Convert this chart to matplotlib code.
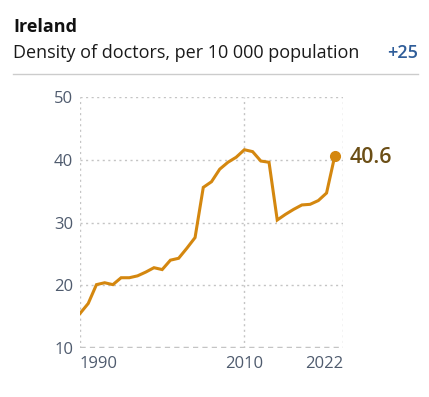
import matplotlib
matplotlib.use("Agg")
import matplotlib.pyplot as plt

plt.rcParams['font.family'] = ['Open Sans', 'DejaVu Sans']

# ---------- Data ----------
years = list(range(1990, 2022))
density = [15.5, 17.1, 20.1, 20.4, 20.1, 21.2, 21.2, 21.5, 22.1, 22.8,
           22.5, 24.0, 24.3, 25.9, 27.6, 35.6, 36.5, 38.5, 39.6, 40.4,
           41.6, 41.3, 39.8, 39.6, 30.4, 31.3, 32.1, 32.8, 32.9, 33.5,
           34.7, 40.6]
y_ticks = [10, 20, 30, 40, 50]
x_ticks = [1990, 2010, 2022]
country = 'Ireland'
subtitle = 'Density of doctors, per 10 000 population'
change = '+25'

line_color = '#d4870f'
tick_color = '#4f5b6e'
grid_color = '#c4c4c4'

fig = plt.figure(figsize=(4.29, 3.97), dpi=100)
ax = fig.add_axes([0.1865, 0.1234, 0.613, 0.6322])

ax.plot(years, density, color=line_color, linewidth=2.2, solid_joinstyle='miter')
ax.plot(years[-1], density[-1], 'o', color=line_color, markersize=7)
ax.annotate(f'{density[-1]:.1f}', (years[-1], density[-1]), xytext=(11, -1),
            textcoords='offset points', va='center', ha='left',
            fontsize=15.5, fontweight='semibold', color='#6b4e16')

ax.set_xlim(1990, 2022)
ax.set_ylim(10, 50)
ax.set_yticks(y_ticks)
ax.set_xticks(x_ticks)
ax.set_yticklabels([str(v) for v in y_ticks])
ax.set_xticklabels([str(v) for v in x_ticks])
for i, lab in enumerate(ax.get_xticklabels()):
    lab.set_ha(['left', 'center', 'right'][i])

ax.tick_params(length=0, labelsize=12, colors=tick_color)
ax.tick_params(axis='x', pad=6)
ax.tick_params(axis='y', pad=5)
for s in ax.spines.values():
    s.set_visible(False)

for v in y_ticks[1:]:
    ax.axhline(v, color=grid_color, linewidth=1, linestyle=(0, (1.5, 2.5)), zorder=0)
ax.axhline(10, color=grid_color, linewidth=2.5, linestyle=(0, (1.5, 1.2)), zorder=0)
for v in x_ticks:
    ax.axvline(v, color=grid_color, linewidth=1, linestyle=(0, (1.5, 2.5)), zorder=0)

fig.text(13 / 429, 1 - 27 / 397, country, fontsize=13, fontweight='bold',
         color='#111111', va='center', ha='left')
fig.text(13 / 429, 1 - 53 / 397, subtitle, fontsize=13, color='#1a1a1a',
         va='center', ha='left')
fig.text(418 / 429, 1 - 53 / 397, change, fontsize=13, fontweight='semibold',
         color='#2f5d99', va='center', ha='right')
fig.add_artist(plt.Line2D([13 / 429, 418 / 429], [1 - 74 / 397, 1 - 74 / 397],
                          color='#cccccc', linewidth=1, transform=fig.transFigure))

fig.savefig('out.png', dpi=100)
